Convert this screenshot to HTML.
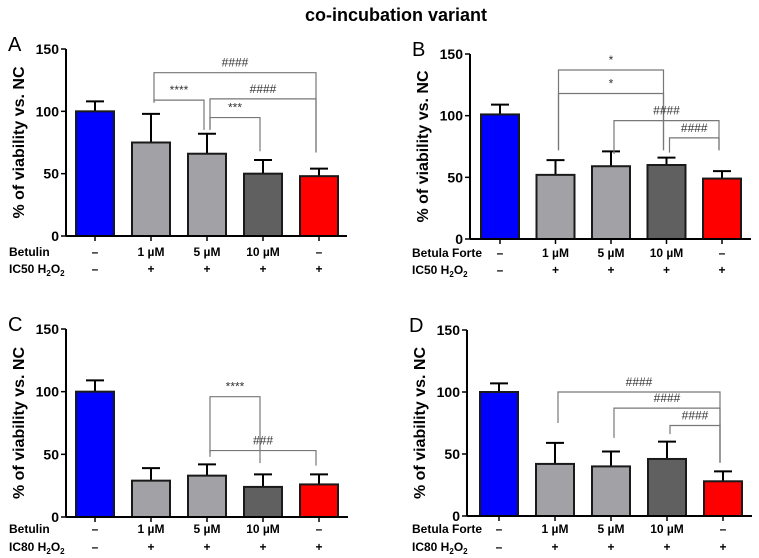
<!DOCTYPE html>
<html><head><meta charset="utf-8"><style>
body{margin:0;background:#fff;}
svg{display:block;font-family:"Liberation Sans",sans-serif;}
.tk{font-weight:bold;font-size:14px;}
.rl{font-weight:bold;font-size:12px;}
</style></head><body>
<svg id="chart" width="759" height="558" viewBox="0 0 759 558">
<text x="396" y="21" text-anchor="middle" font-weight="bold" font-size="18">co-incubation variant</text>
</svg>
<script>
const categories=["NC","1 µM","5 µM","10 µM","H2O2"];
const doseLabels=["–","1 µM","5 µM","10 µM","–"];
const h2o2Labels=["–","+","+","+","+"];
const yTicks=[0,50,100,150];
const valuesA=[100,75,66,50,48];
const errorsA=[8,23,16,11,6];
const valuesB=[101,52,59,60,49];
const errorsB=[8,12,12,6,6];
const valuesC=[100,29,33,24,26];
const errorsC=[9,10,9,10,8];
const valuesD=[100,42,40,46,28];
const errorsD=[7,17,12,14,8];
// brackets: [fromBar, toBar, topValue, leftLegEnd, rightLegEnd, label]
const bracketsA=[[1,4,131,107,67,"####"],[1,2,109,107,85,"****"],[2,4,110,86,67,"####"],[2,3,95,85,68,"***"]];
const bracketsB=[[1,3,137,72,72,"*"],[1,3,118,72,72,"*"],[2,4,96,69,72,"####"],[3,4,82,70,72,"####"]];
const bracketsC=[[2,3,96,51,43,"****"],[2,4,53,48,41,"###"]];
const bracketsD=[[1,4,100,75,43,"####"],[2,4,87,63,43,"####"],[3,4,73,66,43,"####"]];
const colors=["#0000ff","#a2a2a6","#a2a2a6","#606060","#ff0000"];
const NS="http://www.w3.org/2000/svg";
const svg=document.getElementById('chart');
function mk(tag,attrs,parent){const e=document.createElementNS(NS,tag);for(const k in attrs)e.setAttribute(k,attrs[k]);(parent||svg).appendChild(e);return e;}
function panel(p){
  const g=mk('g',{});
  
  
  const y=v=>p.y0-(v/150)*(p.y0-p.y150);
  const x=i=>p.c0+i*p.step;
  const bw=38;
  const L=mk('text',{x:p.ax-58,y:p.y150+2,'font-size':20},g);L.textContent=p.id;
  
  
  const yl=mk('text',{x:0,y:0,'font-weight':'bold','font-size':16,'text-anchor':'middle',transform:`translate(${p.ax-42},${(p.y0+p.y150)/2}) rotate(-90)`},g);
  yl.textContent="% of viability vs. NC";
  
  
  yTicks.forEach(t=>{
    mk('line',{x1:p.ax-5,x2:p.ax,y1:y(t),y2:y(t),stroke:'#000','stroke-width':1.5},g);
    const tt=mk('text',{x:p.ax-7,y:y(t)+5,'text-anchor':'end',class:'tk'},g);tt.textContent=t;
    
    
  });
  p.vals.forEach((v,i)=>{
    const e=p.errs[i];
    mk('line',{x1:x(i),x2:x(i),y1:y(v),y2:y(v+e),stroke:'#000','stroke-width':2},g);
    mk('line',{x1:x(i)-9,x2:x(i)+9,y1:y(v+e),y2:y(v+e),stroke:'#000','stroke-width':2},g);
    const r=mk('rect',{x:x(i)-bw/2,y:y(v),width:bw,height:y(0)-y(v),fill:colors[i],stroke:'#1a1a1a','stroke-width':2},g);
    
    
    mk('line',{x1:x(i),x2:x(i),y1:p.y0,y2:p.y0+5,stroke:'#000','stroke-width':1.5},g);
    const d=mk('text',{x:x(i),y:p.r1,'text-anchor':'middle',class:'rl'},g);d.textContent=doseLabels[i];
    
    
    const h=mk('text',{x:x(i),y:p.r2,'text-anchor':'middle',class:'rl'},g);h.textContent=h2o2Labels[i];
    
    
  });
  mk('line',{x1:p.ax,x2:p.ax,y1:p.y150,y2:p.y0,stroke:'#000','stroke-width':2},g);
  mk('line',{x1:p.ax,x2:p.xend,y1:p.y0,y2:p.y0,stroke:'#000','stroke-width':2},g);
  p.br.forEach(b=>{
    const xl=x(b[0])+3,xr=x(b[1])-3;
    const pl=mk('polyline',{points:`${xl},${y(b[3])} ${xl},${y(b[2])} ${xr},${y(b[2])} ${xr},${y(b[4])}`,fill:'none',stroke:'#777','stroke-width':1.2},g);
    
    
    const t=mk('text',{x:(xl+xr)/2,y:y(b[2])-6,'text-anchor':'middle','font-size':12,fill:'#333'},g);t.textContent=b[5];
    
    
  });
  const a=mk('text',{x:p.lx,y:p.r1,class:'rl'},g);a.textContent=p.agent;
  
  
  const c=mk('text',{x:p.lx,y:p.r2,class:'rl'},g);
  c.innerHTML=p.ic+' H<tspan font-size="8" dy="3">2</tspan><tspan dy="-3">O</tspan><tspan font-size="8" dy="3">2</tspan>';
  
  
}
panel({id:'A',ax:66,y150:49,y0:236,c0:95,step:56,xend:347,vals:valuesA,errs:errorsA,br:bracketsA,r1:256,r2:273,lx:9,agent:'Betulin',ic:'IC50'});
panel({id:'B',ax:470,y150:54,y0:239,c0:500,step:55.5,xend:751,vals:valuesB,errs:errorsB,br:bracketsB,r1:257,r2:274,lx:412,agent:'Betula Forte',ic:'IC50'});
panel({id:'C',ax:66,y150:329,y0:517,c0:95,step:56,xend:348,vals:valuesC,errs:errorsC,br:bracketsC,r1:533,r2:551,lx:9,agent:'Betulin',ic:'IC80'});
panel({id:'D',ax:467,y150:330,y0:516,c0:499,step:56,xend:752,vals:valuesD,errs:errorsD,br:bracketsD,r1:533,r2:551,lx:412,agent:'Betula Forte',ic:'IC80'});
</script>
</body></html>
